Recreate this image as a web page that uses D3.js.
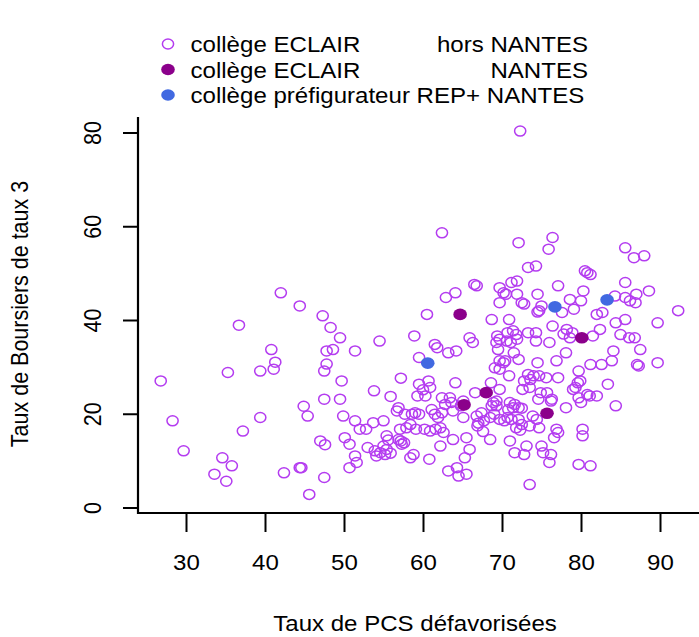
<!DOCTYPE html>
<html>
<head>
<meta charset="utf-8">
<script src="https://cdn.jsdelivr.net/npm/d3@7"></script>
<style>
  html, body { margin: 0; padding: 0; background: #ffffff; }
  svg { display: block; }
  text { font-family: "Liberation Sans", Arial, Helvetica, sans-serif; }
</style>
</head>
<body>
<script>
// ---------------- DATA ----------------
const xTicks = [30, 40, 50, 60, 70, 80, 90];
const yTicks = [0, 20, 40, 60, 80];
const xLabel = "Taux de PCS défavorisées";
const yLabel = "Taux de Boursiers de taux 3";
const legendLeft  = ["collège ECLAIR", "collège ECLAIR", "collège préfigurateur REP+ NANTES"];
const legendRight = ["hors NANTES", "NANTES", ""];

// collège ECLAIR hors NANTES  [PCS, boursiers]
const eclairHorsNantes = [
  [42.0,45.8],[44.4,43.0],[47.3,40.9],[36.7,38.9],[48.3,38.4],[49.5,36.2],[54.5,35.5],[40.8,33.7],
  [47.8,33.4],[48.6,33.7],[51.4,33.4],[41.3,31.0],[41.1,29.5],[35.3,28.8],[39.4,29.1],[47.8,30.6],
  [47.5,29.1],[26.8,27.0],[49.7,27.0],[57.2,27.6],[53.8,24.9],[47.5,23.1],[49.5,23.1],[55.9,23.7],
  [44.9,21.6],[45.4,19.5],[28.3,18.5],[39.4,19.2],[37.2,16.3],[47.0,14.2],[47.6,13.4],[29.7,12.1],
  [34.6,10.6],[35.8,8.9],[33.6,7.1],[35.1,5.6],[42.4,7.4],[44.4,8.5],[44.6,8.5],[47.5,6.4],
  [45.6,2.8],[58.9,36.6],[59.5,32.0],[59.5,26.3],[59.3,23.8],
  [49.9,19.5],[51.4,18.5],[52.0,16.7],[52.8,16.7],[53.7,18.1],[55.0,18.5],[50.1,14.9],[50.7,13.5],
  [53.0,12.8],[51.4,11.0],[51.6,9.6],[50.7,8.5],[53.9,12.1],[54.1,11.0],[54.6,11.7],[55.2,11.3],
  [55.9,11.6],[55.4,12.4],[55.0,13.1],[55.4,15.3],[55.6,14.4],[56.9,21.3],[56.7,20.6],[57.7,19.9],
  [58.6,19.9],[59.0,20.2],[59.5,19.9],[57.1,16.7],[57.9,17.0],[58.4,17.7],[59.1,16.7],[60.2,16.7],
  [60.9,16.3],[61.6,16.7],[62.2,17.0],[62.6,16.0],[56.9,14.5],[57.2,14.2],[57.6,13.8],[57.3,13.5],
  [58.4,10.6],[58.8,11.3],[60.8,10.3],[62.2,13.1],[63.8,14.5],[65.5,14.9],[65.9,12.4],[65.3,10.6],
  [63.2,7.8],[64.3,8.5],[64.5,6.7],[65.5,7.1],[67.4,20.2],[66.8,19.5],[67.0,18.0],[67.6,16.2],
  [68.5,14.5],
  [61.1,20.9],[61.5,19.9],[61.9,19.2],[62.4,20.2],[63.8,20.6],[65.1,19.2],[62.4,23.4],[63.4,23.4],
  [62.8,22.0],[63.6,22.4],[65.1,22.7],[64.8,21.7],[68.9,22.4],[69.3,22.7],[68.7,21.7],[69.3,21.7],
  [71.0,22.4],[71.6,22.0],[72.1,21.3],[71.4,21.3],[72.5,21.2],[70.8,20.9],[67.7,18.5],[68.5,19.2],
  [69.0,19.9],[69.7,18.8],[70.3,18.5],[70.7,19.2],[71.2,18.8],[72.1,18.8],[72.5,17.7],[71.8,17.0],
  [73.5,17.4],[73.9,19.5],[74.4,18.8],[74.7,17.0],[66.9,17.4],[71.0,14.2],[73.1,13.1],[75.0,13.1],
  [76.9,16.7],[77.1,16.0],[76.6,14.9],[80.2,16.7],[80.2,15.3],[71.6,11.7],[72.8,11.3],[75.2,11.7],
  [76.2,11.3],[76.0,9.6],[79.7,9.2],[81.2,8.9],[73.5,4.9],[72.3,16.5],[78.1,21.3],[84.4,21.7],
  [60.5,41.2],[68.7,40.1],[70.9,40.1],[77.6,41.6],[79.1,42.3],[82.0,41.2],[82.7,41.6],[84.4,39.4],
  [85.6,40.1],[89.7,39.4],[92.3,42.0],[65.9,36.2],[66.3,35.2],[61.5,34.8],[61.8,34.1],[63.2,33.0],
  [64.2,33.4],[69.4,36.6],[69.7,35.9],[69.3,35.2],[70.7,37.3],[71.4,37.7],[71.8,36.9],[70.6,35.5],
  [71.1,35.2],[71.9,35.9],[73.3,37.3],[74.3,37.3],[74.3,35.5],[77.8,37.0],[78.2,38.0],[78.6,36.2],
  [78.9,37.3],[69.5,33.7],[71.5,33.0],[72.1,31.6],[76.0,35.2],[76.4,38.7],[81.5,36.6],[82.4,38.0],
  [85.0,36.9],[86.1,36.2],[86.8,36.2],[87.5,33.7],[84.1,33.4],[83.9,31.3],[82.6,30.5],[81.2,30.5],
  [87.1,30.5],[87.3,30.2],[89.7,30.9],[78.1,33.0],[76.9,31.3],[74.5,30.9],[79.7,29.1],[69.7,31.3],
  [70.2,30.9],[70.4,31.3],[69.1,29.8],[69.7,29.5],[70.9,28.1],[73.3,28.4],[74.0,28.1],[74.7,28.1],
  [75.6,27.7],[77.1,27.7],[72.8,27.0],[73.6,27.3],[72.6,25.2],[60.7,27.0],[60.9,25.6],[60.0,25.1],
  [60.3,23.8],[64.1,26.6],[68.6,26.6],[69.7,25.2],[66.6,24.5],[73.5,25.6],[74.9,24.5],[75.7,24.5],
  [76.2,22.7],[76.3,23.1],[74.6,23.1],[79.0,25.2],[79.6,26.6],[79.9,27.0],[79.3,25.6],[83.4,26.3],
  [80.8,24.1],[81.1,23.8],[82.0,23.8],[79.7,23.4],[80.0,22.4],
  [62.4,58.6],[72.1,56.5],[76.4,57.6],[75.9,55.1],[85.6,55.4],[86.7,53.3],[88.0,53.7],[73.3,51.2],
  [74.3,51.5],[80.5,50.5],[80.8,50.1],[81.2,49.7],[66.5,47.6],[66.8,47.3],[64.1,45.8],[62.9,44.8],
  [69.7,46.9],[70.2,45.8],[70.5,45.5],[71.2,48.0],[71.9,48.3],[71.9,45.5],[74.5,45.5],[77.1,47.3],
  [80.3,46.2],[80.0,44.1],[78.6,44.4],[85.6,48.0],[88.6,46.2],[84.3,45.1],[85.6,44.8],[87.0,45.5],
  [86.2,44.1],[86.9,43.7],[69.7,43.7],[72.5,43.7],[72.8,43.4],[75.0,43.0],[74.7,42.0],[74.5,41.7],
  [72.3,80.3]
];

// collège ECLAIR NANTES
const eclairNantes = [[64.7,41.2],[80.1,36.2],[68.0,24.5],[65.2,21.9],[75.7,20.1]];

// collège préfigurateur REP+ NANTES
const prefigNantes = [[60.6,30.8],[76.7,42.8],[83.3,44.3]];

// ---------------- STYLE ----------------
const colOpen = "#B43CF0", colNantes = "#8B008B", colRep = "#4169E1";
const FS = 21.5, SX = 1.12;   // text size, horizontal stretch of the original picture

const W = 699, H = 637;
const svg = d3.select("body").append("svg").attr("width", W).attr("height", H);

const x = d3.scaleLinear().domain([30, 90]).range([186, 660]);
const y = d3.scaleLinear().domain([0, 80]).range([507.5, 132.5]);
const plotLeft = 138, plotBottom = 513, plotTop = 117;

function txt(px, py, s, anchor, rot) {
  return svg.append("text")
    .attr("transform", `translate(${px},${py}) scale(${SX},1)` + (rot ? ` rotate(${rot})` : ""))
    .attr("text-anchor", anchor || "start")
    .attr("font-size", FS)
    .attr("fill", "#000")
    .text(s);
}

// box (bty = "l")
svg.append("path")
  .attr("d", `M${plotLeft},${plotTop}V${plotBottom}H${W}`)
  .attr("fill", "none").attr("stroke", "#000").attr("stroke-width", 2.2);

// x axis
const gx = svg.append("g").attr("transform", `translate(0,${plotBottom})`)
  .call(d3.axisBottom(x).tickValues(xTicks).tickSize(19).tickFormat(d3.format("d")));
gx.select(".domain").remove();
gx.selectAll(".tick line").attr("stroke", "#000").attr("stroke-width", 2);
gx.selectAll(".tick text")
  .attr("y", null).attr("dy", null)
  .attr("transform", `translate(0,57) scale(${SX},1)`)
  .attr("font-size", FS).attr("font-family", "Liberation Sans, Arial, sans-serif").attr("fill", "#000");

// y axis
const gy = svg.append("g").attr("transform", `translate(${plotLeft},0)`)
  .call(d3.axisLeft(y).tickValues(yTicks).tickSize(15).tickFormat(d3.format("d")));
gy.select(".domain").remove();
gy.selectAll(".tick line").attr("stroke", "#000").attr("stroke-width", 2);
gy.selectAll(".tick text")
  .attr("x", null).attr("dy", null)
  .attr("text-anchor", "middle")
  .attr("transform", `translate(-37,0) scale(${SX},1) rotate(-90)`)
  .attr("font-size", FS).attr("font-family", "Liberation Sans, Arial, sans-serif").attr("fill", "#000");

// axis titles
txt(415, 631, xLabel, "middle");
txt(28, 314, yLabel, "middle", -90);

// points
const rxO = 5.6, ryO = 5.0;
svg.append("g").selectAll("ellipse").data(eclairHorsNantes).join("ellipse")
  .attr("cx", d => x(d[0])).attr("cy", d => y(d[1]))
  .attr("rx", rxO).attr("ry", ryO)
  .attr("fill", "none").attr("stroke", colOpen).attr("stroke-width", 1.5);

const rxF = 6.8, ryF = 5.8;
svg.append("g").selectAll("ellipse").data(eclairNantes).join("ellipse")
  .attr("cx", d => x(d[0])).attr("cy", d => y(d[1]))
  .attr("rx", rxF).attr("ry", ryF).attr("fill", colNantes);
svg.append("g").selectAll("ellipse").data(prefigNantes).join("ellipse")
  .attr("cx", d => x(d[0])).attr("cy", d => y(d[1]))
  .attr("rx", rxF).attr("ry", ryF).attr("fill", colRep);

// legend
const legY = [44, 69.5, 95];
const legX = 168, legTextX = 190.5, legEnd = 588;
svg.append("ellipse").attr("cx", legX).attr("cy", legY[0]).attr("rx", rxO).attr("ry", ryO)
  .attr("fill", "none").attr("stroke", colOpen).attr("stroke-width", 1.5);
svg.append("ellipse").attr("cx", legX).attr("cy", legY[1]).attr("rx", rxF).attr("ry", ryF).attr("fill", colNantes);
svg.append("ellipse").attr("cx", legX).attr("cy", legY[2]).attr("rx", rxF).attr("ry", ryF).attr("fill", colRep);
legendLeft.forEach((s, i) => {
  txt(legTextX, legY[i] + 8, s, "start");
  if (legendRight[i]) txt(legEnd, legY[i] + 8, legendRight[i], "end");
});
</script>
</body>
</html>
